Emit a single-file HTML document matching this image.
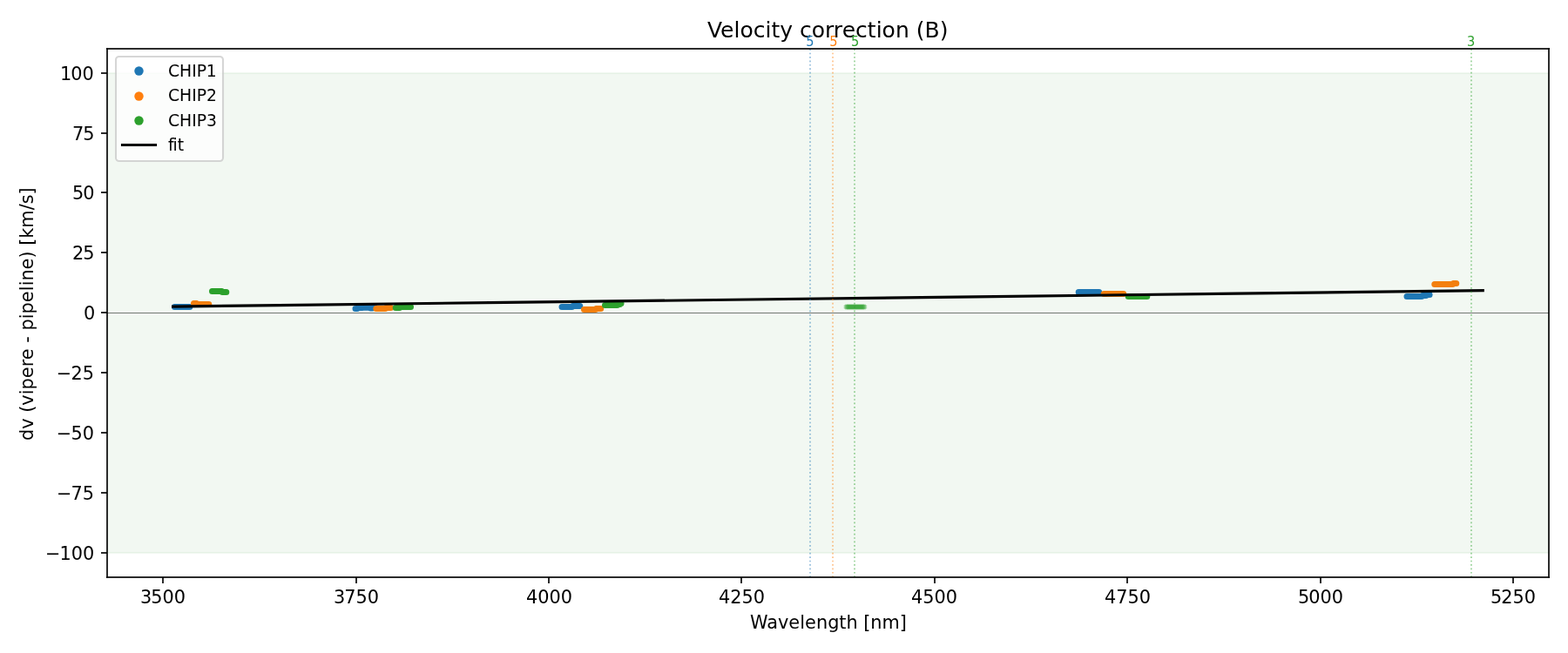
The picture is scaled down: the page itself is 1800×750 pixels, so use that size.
<!DOCTYPE html>
<html lang="en">
<head>
<meta charset="utf-8">
<title>Velocity correction (B)</title>
<style>
html,body{margin:0;padding:0;background:#ffffff;}
body{width:1800px;height:750px;overflow:hidden;}
svg{display:block;}
text{font-family:"DejaVu Sans","Liberation Sans",sans-serif;fill:#000000;font-variant-ligatures:none;font-feature-settings:"liga" 0,"clig" 0;}
.tick{font-size:20.8333px;}
.lbl{font-size:20.8333px;}
.ttl{font-size:25px;}
.leg{font-size:18.75px;}
.ann{font-size:14.5833px;}
</style>
</head>
<body>
<svg width="1800" height="750" viewBox="0 0 1800 750" role="img" aria-label="Velocity correction (B)">
<rect x="0" y="0" width="1800" height="750" fill="#ffffff"/>
<g id="band">
<rect x="123" y="83" width="1655" height="553" fill="#f2f8f2"/>
<rect x="123" y="82" width="1655" height="1" fill="#fefefe"/>
<rect x="123" y="84" width="1655" height="1" fill="#e5f1e5"/>
<rect x="123" y="85" width="1655" height="1" fill="#f1f7f1"/>
<rect x="123" y="633" width="1655" height="1" fill="#f1f7f1"/>
<rect x="123" y="634" width="1655" height="1" fill="#e5f1e5"/>
<rect x="123" y="636" width="1655" height="1" fill="#fefefe"/>
</g>
<g id="zero" fill="#000000">
<rect x="123" y="359" width="1655" height="1" fill-opacity="0.5"/>
<rect x="123" y="358" width="1655" height="3" fill-opacity="0.012"/>
</g>
<g id="points" fill="none" stroke-width="7" stroke-linecap="round" stroke-linejoin="round">
<path d="M200.5 352.5H217.8 M408.0 354.5H410.0 M410.5 353.6H416.0 M416.5 353.2H430.5 M425.5 353.9H427.5 M645.0 352.5H656.5 M657.5 351.5H665.8 M1238.2 335.5H1261.7 M1615.0 340.5H1632.0 M1633.0 339.5H1637.0 M1637.5 338.5H1641.1" stroke="#1f77b4"/>
<path d="M222.5 348.5H225.5 M226.5 349.5H239.8 M431.8 354.5H442.3 M443.2 353.5H448.5 M670.5 355.5H683.5 M684.5 354.5H689.7 M1267.2 337.5H1289.8 M1646.8 326.5H1667.5 M1668.5 325.5H1671.8" stroke="#f37f0e"/>
<path d="M243.5 334.5H254.5 M255.3 335.5H259.8 M454.2 353.5H458.5 M459.5 352.5H471.5 M694.5 350.5H708.5 M709.5 349.5H711.5 M712.0 348.5H713.0 M1295.2 340.5H1316.8" stroke="#2ca02c"/>
</g>
<g id="rejected" stroke="#2ca02c" stroke-width="3.125" stroke-opacity="0.34" fill="none">
<path id="xm" d="M-2.08-2.08L2.08 2.08M-2.08 2.08L2.08-2.08" transform="translate(971.4 352.5)"/>
<use href="#xm" x="1"/>
<use href="#xm" x="2"/>
<use href="#xm" x="3"/>
<use href="#xm" x="4"/>
<use href="#xm" x="5"/>
<use href="#xm" x="6"/>
<use href="#xm" x="7"/>
<use href="#xm" x="8"/>
<use href="#xm" x="9"/>
<use href="#xm" x="10"/>
<use href="#xm" x="11"/>
<use href="#xm" x="12"/>
<use href="#xm" x="13"/>
<use href="#xm" x="14"/>
<use href="#xm" x="15"/>
<use href="#xm" x="16"/>
<use href="#xm" x="17"/>
<use href="#xm" x="18"/>
<use href="#xm" x="19"/>
<use href="#xm" x="20"/>
<use href="#xm" x="21"/>
</g>
<g id="fit">
<path d="M198.6 352.10 L320.0 350.59 L580.0 347.43 L840.0 344.24 L1120.0 340.92 L1420.0 337.16 L1702.3 333.68" stroke="#000000" stroke-width="3.125" stroke-linecap="square" stroke-linejoin="round" fill="none"/>
</g>
<g id="vlines" stroke-width="2" stroke-opacity="0.4167" stroke-dasharray="1.6667 2.75" fill="none">
<path d="M930 663 L930 56" stroke="#1f77b4"/>
<path d="M956 663 L956 56" stroke="#ff7f0e"/>
<path d="M981 663 L981 56" stroke="#2ca02c"/>
<path d="M1689 663 L1689 56" stroke="#2ca02c"/>
</g>
<g id="spines" fill="#000000" fill-opacity="0.8333">
<rect x="122" y="55" width="1657" height="2"/>
<rect x="122" y="662" width="1657" height="2"/>
<rect x="122" y="55" width="2" height="609"/>
<rect x="1777" y="55" width="2" height="609"/>
</g>
<g id="xticks" fill="#000000" fill-opacity="0.8333">
<rect x="186" y="663" width="2" height="7"/>
<rect x="408" y="663" width="2" height="7"/>
<rect x="629" y="663" width="2" height="7"/>
<rect x="850" y="663" width="2" height="7"/>
<rect x="1072" y="663" width="2" height="7"/>
<rect x="1293" y="663" width="2" height="7"/>
<rect x="1515" y="663" width="2" height="7"/>
<rect x="1736" y="663" width="2" height="7"/>
</g>
<g id="yticks" fill="#000000" fill-opacity="0.8333">
<rect x="116" y="83" width="7" height="2"/>
<rect x="116" y="152" width="7" height="2"/>
<rect x="116" y="220" width="7" height="2"/>
<rect x="116" y="289" width="7" height="2"/>
<rect x="116" y="358" width="7" height="2"/>
<rect x="116" y="427" width="7" height="2"/>
<rect x="116" y="496" width="7" height="2"/>
<rect x="116" y="565" width="7" height="2"/>
<rect x="116" y="634" width="7" height="2"/>
</g>
<g id="xticklabels">
<text id="xt3500" class="tick" text-anchor="start" x="161.12 173.36 186.51 199.76" y="693.00">3500</text>
<text id="xt3750" class="tick" text-anchor="start" x="383.10 395.32 408.53 421.83" y="693.00">3750</text>
<text id="xt4000" class="tick" text-anchor="start" x="603.92 617.29 630.54 643.79" y="693.00">4000</text>
<text id="xt4250" class="tick" text-anchor="start" x="824.88 838.35 851.39 864.64" y="693.00">4250</text>
<text id="xt4500" class="tick" text-anchor="start" x="1045.88 1059.19 1072.44 1085.69" y="693.00">4500</text>
<text id="xt4750" class="tick" text-anchor="start" x="1268.04 1281.37 1294.62 1307.87" y="693.00">4750</text>
<text id="xt5000" class="tick" text-anchor="start" x="1489.92 1502.31 1515.56 1528.76" y="693.00">5000</text>
<text id="xt5250" class="tick" text-anchor="start" x="1710.93 1723.34 1736.53 1749.78" y="693.00">5250</text>
</g>
<g id="yticklabels">
<text id="ytm100" class="tick" text-anchor="start" x="52.12 68.56 81.86 95.11" y="643.00">−100</text>
<text id="ytm75" class="tick" text-anchor="start" x="65.05 81.60 94.85" y="574.00">−75</text>
<text id="ytm50" class="tick" text-anchor="start" x="64.72 81.47 94.73" y="505.00">−50</text>
<text id="ytm25" class="tick" text-anchor="start" x="64.80 81.52 94.69" y="436.00">−25</text>
<text id="yt0" class="tick" text-anchor="start" x="95.95" y="367.00">0</text>
<text id="yt25" class="tick" text-anchor="start" x="83.03 95.33" y="298.00">25</text>
<text id="yt50" class="tick" text-anchor="start" x="82.94 95.34" y="229.00">50</text>
<text id="yt75" class="tick" text-anchor="start" x="82.89 95.29" y="161.00">75</text>
<text id="yt100" class="tick" text-anchor="start" x="69.06 81.31 94.46" y="92.00">100</text>
</g>
<g id="labels">
<text id="title" class="ttl" text-anchor="start" x="811.90 827.09 842.47 849.43 864.86 878.40 885.38 895.31 910.06 917.90 931.77 947.07 956.81 966.68 982.06 995.65 1005.75 1012.38 1027.91 1043.75 1051.70 1061.59 1078.63" y="43.00">Velocity correction (B)</text>
<text id="xlabel" class="lbl" text-anchor="start" x="861.09 880.34 892.90 905.33 918.33 924.07 937.12 950.37 963.28 971.43 984.64 991.26 999.36 1012.51 1032.84" y="722.00">Wavelength [nm]</text>
<text id="ylabel" class="lbl" text-anchor="start" transform="translate(38.00 360.50) rotate(-90)" x="-145.61 -132.32 -119.72 -113.22 -105.15 -92.66 -86.89 -73.72 -60.83 -52.72 -39.72 -33.21 -25.55 -19.12 -5.73 0.12 13.31 26.32 32.38 37.97 51.03 63.94 72.07 78.67 86.85 98.83 119.38 126.15 137.09">dv (vipere - pipeline) [km/s]</text>
</g>
<g id="counts">
<text id="ann0" class="ann" text-anchor="middle" style="fill:#1f77b4" transform="translate(929.87 53.00) scale(1 1.090)">5</text>
<text id="ann1" class="ann" text-anchor="middle" style="fill:#ff7f0e" transform="translate(956.76 53.00) scale(1 1.090)">5</text>
<text id="ann2" class="ann" text-anchor="middle" style="fill:#2ca02c" transform="translate(981.60 53.00) scale(1 1.090)">5</text>
<text id="ann3" class="ann" text-anchor="middle" style="fill:#2ca02c" transform="translate(1688.68 53.00) scale(1 1.090)">3</text>
</g>
<g id="legend">
<rect x="133" y="65" width="123" height="120" rx="3.75" ry="3.75" fill="#ffffff" stroke="#cccccc" stroke-width="2.0833" opacity="0.8"/>
<circle cx="159.5" cy="81.5" r="5.208" fill="#1f77b4"/>
<circle cx="159.5" cy="110.5" r="5.208" fill="#ff7f0e"/>
<circle cx="159.5" cy="138.5" r="5.208" fill="#2ca02c"/>
<path d="M140.5 166.5 L178.5 166.5" stroke="#000000" stroke-width="3.125" stroke-linecap="square" fill="none"/>
<text id="leg0" class="leg" text-anchor="start" x="192.92 205.98 220.34 225.72 236.86" y="88.00">CHIP1</text>
<text id="leg1" class="leg" text-anchor="start" x="192.92 205.88 220.36 225.64 236.94" y="116.00">CHIP2</text>
<text id="leg2" class="leg" text-anchor="start" x="192.91 205.99 220.35 225.63 236.93" y="145.00">CHIP3</text>
<text id="leg3" class="leg" text-anchor="start" x="192.95 198.45 203.74" y="173.00">fit</text>
</g>
</svg>
</body>
</html>
